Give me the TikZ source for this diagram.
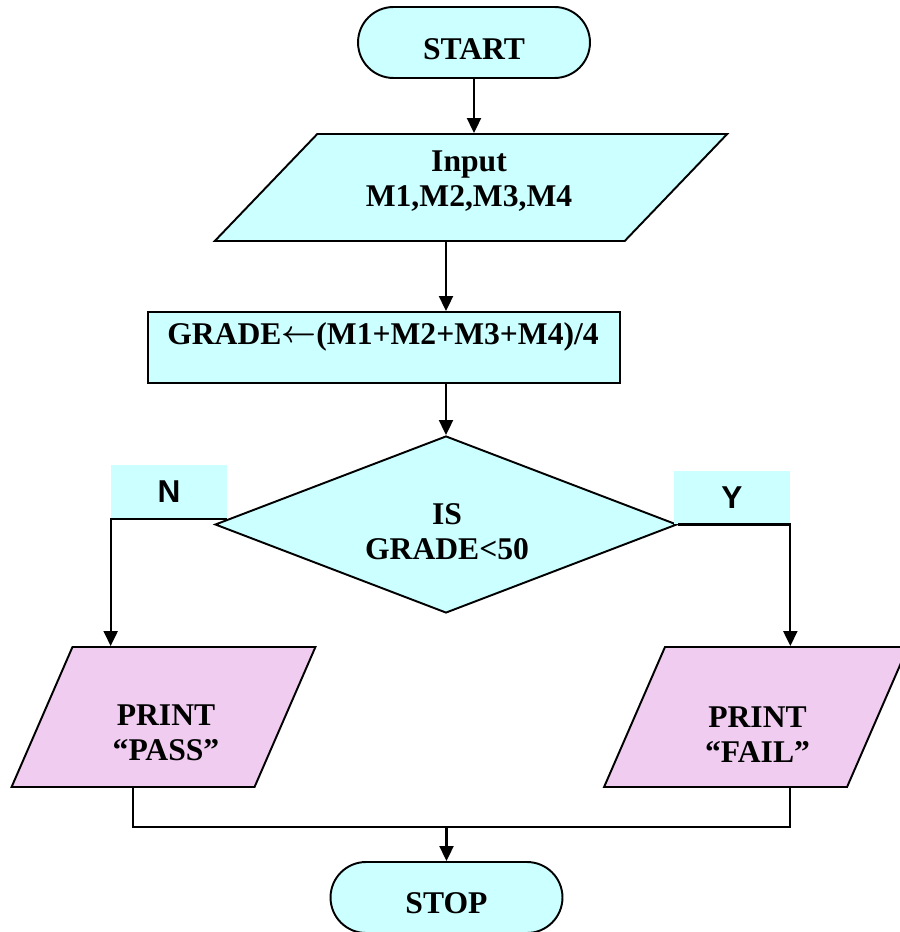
\documentclass[tikz,border=0pt]{standalone}
\usepackage{fontspec}
\setmainfont{Liberation Serif}
\newfontfamily\arialfont{Liberation Sans}
\usetikzlibrary{shapes.geometric,shapes.misc,arrows.meta}
\definecolor{lightcyan}{HTML}{CCFFFF}
\definecolor{lightpink}{HTML}{F0CCF0}

\begin{document}
\begin{tikzpicture}[x=0.02cm,y=-0.02cm,
    font=\bfseries\fontsize{18}{20}\selectfont,
    outline/.style={draw,line width=1.1pt,inner sep=0pt},
    term/.style={outline,rounded rectangle,fill=lightcyan,minimum width=4.64cm,minimum height=1.42cm},
    io/.style={outline,rectangle,transform shape,fill=lightpink,minimum width=4.86cm,minimum height=2.8cm,xslant=#1},
    io/.default=0.435,
    proc/.style={outline,rectangle,fill=lightcyan,minimum width=9.44cm,minimum height=1.42cm},
    decision/.style={outline,diamond,fill=lightcyan,minimum width=9.24cm,minimum height=3.54cm},
    tag/.style={fill=lightcyan,inner sep=0pt,minimum width=2.32cm,font=\arialfont\bfseries\fontsize{18}{20}\selectfont},
    txt/.style={align=center},
    arr/.style={line width=1.2pt,-{Triangle[length=0.3cm,width=0.28cm]}},
    flow/.style={line width=1pt}]
  \useasboundingbox (0,0) rectangle (899,932);

  % Shapes
  \node[term] (start) at (474,42.5) {};
  \node[io=0.958,fill=lightcyan,minimum width=8.2cm,minimum height=2.14cm] (in) at (471,187.5) {};
  \node[proc] (proc) at (384,347.5) {};
  \node[decision] (dec) at (446,524.5) {};
  \node[tag,minimum height=1.08cm] (nbox) at (169,492) {N};
  \node[tag,minimum height=1.06cm] (ybox) at (732,497.5) {Y};
  \node[io] (pass) at (163.5,717) {};
  \node[io] (fail) at (756,717) {};
  \node[term] (stop) at (446.5,897.5) {};

  % Texts
  \node (starttxt) at (474,49) {START};
  \node[txt] (intxt) at (469,181) {Input\\M1,M2,M3,M4};
  \node (proctxt) at (383,337) {GRADE\raisebox{0.08em}{\boldmath$\leftarrow$}(M1+M2+M3+M4)/4};
  \node[txt] (dectxt) at (447,531.5) {IS\\GRADE<50};
  \node[txt] (passtxt) at (166,733) {PRINT\\“PASS”};
  \node[txt] (failtxt) at (757.5,734.5) {PRINT\\“FAIL”};
  \node (stoptxt) at (446.5,903) {STOP};

  % Connectors
  \draw[arr] (start) -- (start |- in.north);
  \draw[arr] (dec |- in.south) -- (dec |- proc.north);
  \draw[arr] (dec |- proc.south) -- (dec.north);
  \draw[arr] (nbox.south east) -| (nbox.west |- pass.north);
  \draw[arr] (dec.east) -| (ybox.east |- fail.north);

  % Join below the outputs
  \coordinate (join) at (446.5,827);
  \draw[flow] (pass.south) |- (join);
  \draw[flow] (ybox.east |- fail.south) |- (join);
  \draw[arr] (join) -- (stop);
\end{tikzpicture}
\end{document}
